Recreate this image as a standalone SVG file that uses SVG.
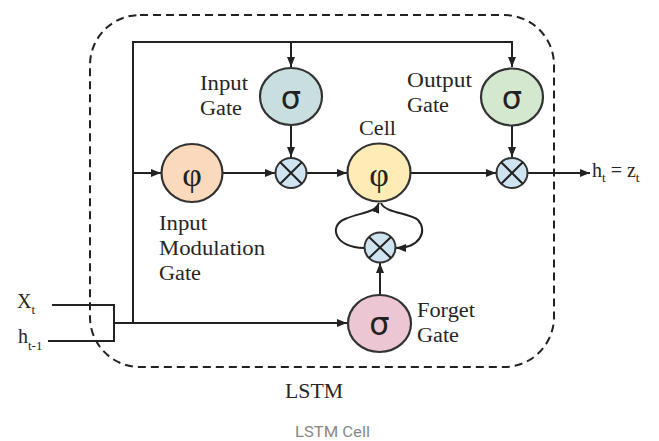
<svg xmlns="http://www.w3.org/2000/svg" width="659" height="441" viewBox="0 0 659 441">
<defs>
<marker id="ah" viewBox="0 0 10 8" refX="10" refY="4" markerWidth="10" markerHeight="8" markerUnits="userSpaceOnUse" orient="auto">
<path d="M0,0 L10,4 L0,8 Z" fill="#222"/>
</marker>
<style>
.ln{fill:none;stroke:#222;stroke-width:2}
.nd{stroke:#333;stroke-width:2.2}
.lbl{font-family:'Liberation Serif','Times New Roman',serif;font-size:20px;fill:#262626}
.sym{font-family:'DejaVu Sans',sans-serif;font-size:32px;fill:#222;text-anchor:middle}
.phi{font-family:'Liberation Serif',serif;font-size:34px;fill:#222;text-anchor:middle}
.mx{fill:#cfe3f0;stroke:#333;stroke-width:2}
</style>
</defs>
<rect width="659" height="441" fill="#fff"/>
<rect x="90" y="15" width="464" height="352" rx="50" ry="50" fill="none" stroke="#222" stroke-width="2" stroke-dasharray="8 5"/>
<g id="connectors">
<path class="ln" d="M133,323 V42 H512 V67" marker-end="url(#ah)"/>
<path class="ln" d="M291,42 V67" marker-end="url(#ah)"/>
<path class="ln" d="M133,173 H161" marker-end="url(#ah)"/>
<path class="ln" d="M291,125 V157" marker-end="url(#ah)"/>
<path class="ln" d="M223,173 H275" marker-end="url(#ah)"/>
<path class="ln" d="M307,173 H347" marker-end="url(#ah)"/>
<path class="ln" d="M411,173 H496" marker-end="url(#ah)"/>
<path class="ln" d="M512,126 V157" marker-end="url(#ah)"/>
<path class="ln" d="M528,173 H590" marker-end="url(#ah)"/>
<path class="ln" d="M52,305 H114 V341 H48"/>
<path class="ln" d="M114,323 H347" marker-end="url(#ah)"/>
<path class="ln" d="M380,295 V263" marker-end="url(#ah)"/>
<path class="ln" d="M364,248 C335,248 328,226 345,219 S375,213 379,203" marker-end="url(#ah)"/>
<path class="ln" d="M381,203 C385,213 410,213 418,220 C428,231 420,248 396,248" marker-end="url(#ah)"/>
</g>
<g id="input-gate">
<ellipse class="nd" cx="291" cy="96.5" rx="31" ry="28.5" fill="#c9dedf"/>
<text class="sym" x="291" y="109">σ</text>
<text class="lbl" x="200" y="90" textLength="48" lengthAdjust="spacingAndGlyphs">Input</text>
<text class="lbl" x="200" y="115" textLength="42" lengthAdjust="spacingAndGlyphs">Gate</text>
</g>
<g id="input-modulation-gate">
<ellipse class="nd" cx="192" cy="173" rx="30.5" ry="29" fill="#fad9bd"/>
<text class="phi" x="192" y="186">φ</text>
<text class="lbl" x="159" y="230" textLength="48" lengthAdjust="spacingAndGlyphs">Input</text>
<text class="lbl" x="159" y="255" textLength="106" lengthAdjust="spacingAndGlyphs">Modulation</text>
<text class="lbl" x="159" y="280" textLength="42" lengthAdjust="spacingAndGlyphs">Gate</text>
</g>
<g id="input-mult">
<ellipse class="mx" cx="291" cy="173" rx="15.5" ry="15"/>
<path class="ln" d="M280,162 L302,184 M302,162 L280,184"/>
</g>
<g id="cell">
<ellipse class="nd" cx="379" cy="172.5" rx="31.5" ry="29" fill="#fdecb6"/>
<text class="phi" x="379" y="186">φ</text>
<text class="lbl" x="359" y="135" textLength="37" lengthAdjust="spacingAndGlyphs">Cell</text>
</g>
<g id="output-gate">
<ellipse class="nd" cx="512" cy="97" rx="31" ry="28.5" fill="#d3e8cf"/>
<text class="sym" x="512" y="109">σ</text>
<text class="lbl" x="407" y="87" textLength="65" lengthAdjust="spacingAndGlyphs">Output</text>
<text class="lbl" x="407" y="112" textLength="42" lengthAdjust="spacingAndGlyphs">Gate</text>
</g>
<g id="output-mult">
<ellipse class="mx" cx="512" cy="173" rx="15.5" ry="15"/>
<path class="ln" d="M501,162 L523,184 M523,162 L501,184"/>
</g>
<g id="forget-mult">
<ellipse class="mx" cx="380" cy="247.5" rx="15.5" ry="15"/>
<path class="ln" d="M369,237 L391,258 M391,237 L369,258"/>
</g>
<g id="forget-gate">
<ellipse class="nd" cx="379.5" cy="323.5" rx="31.5" ry="28.5" fill="#ecc7d3"/>
<text class="sym" x="379.5" y="335">σ</text>
<text class="lbl" x="417" y="317" textLength="58" lengthAdjust="spacingAndGlyphs">Forget</text>
<text class="lbl" x="417" y="342" textLength="42" lengthAdjust="spacingAndGlyphs">Gate</text>
</g>
<g id="inputs">
<text class="lbl" x="17" y="308">X<tspan font-size="13" dy="6">t</tspan></text>
<text class="lbl" x="18" y="343">h<tspan font-size="13" dy="7">t-1</tspan></text>
</g>
<g id="output">
<text class="lbl" x="592" y="177">h<tspan font-size="13" dy="5">t</tspan><tspan dy="-5"> =  z</tspan><tspan font-size="13" dy="5">t</tspan></text>
</g>
<text class="lbl" x="285" y="398" style="font-size:21px" textLength="58" lengthAdjust="spacingAndGlyphs">LSTM</text>
<text x="295" y="437" font-family="Roboto, 'Liberation Sans', sans-serif" font-size="14" fill="#888" textLength="75" lengthAdjust="spacingAndGlyphs">LSTM Cell</text>
</svg>
